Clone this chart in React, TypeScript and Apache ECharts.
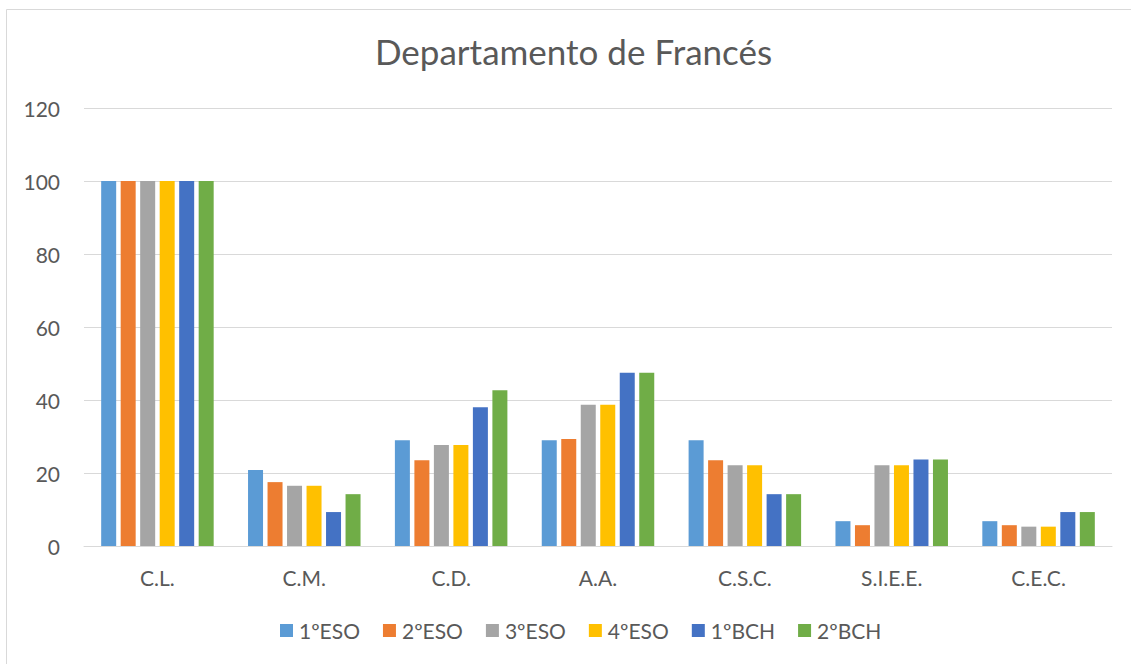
import React, { useEffect, useRef } from "react";
import * as echarts from "echarts";

const categories = ["C.L.", "C.M.", "C.D.", "A.A.", "C.S.C.", "S.I.E.E.", "C.E.C."];
const seriesNames = ["1ºESO", "2ºESO", "3ºESO", "4ºESO", "1ºBCH", "2ºBCH"];
const seriesColors = ["#5B9BD5", "#ED7D31", "#A5A5A5", "#FFC000", "#4472C4", "#70AD47"];
const eso1 = [100, 20.8, 29.0, 29.0, 29.0, 6.8, 6.8];
const eso2 = [100, 17.5, 23.5, 29.3, 23.5, 5.7, 5.7];
const eso3 = [100, 16.5, 27.7, 38.7, 22.1, 22.1, 5.3];
const eso4 = [100, 16.5, 27.7, 38.7, 22.1, 22.1, 5.3];
const bch1 = [100, 9.3, 38.0, 47.5, 14.2, 23.7, 9.3];
const bch2 = [100, 14.2, 42.7, 47.5, 14.2, 23.7, 9.3];
const seriesValues = [eso1, eso2, eso3, eso4, bch1, bch2];
const yTicks = { min: 0, max: 120, interval: 20 };
const titleText = "Departamento de Francés";

const FONT = "Lato, 'Open Sans', sans-serif";
const TEXT = "#595959";

export default function App() {
  const ref = useRef<HTMLDivElement>(null);
  useEffect(() => {
    if (!ref.current) return;
    const chart = echarts.init(ref.current, undefined, { renderer: "svg" });
    chart.setOption({
      animation: false,
      backgroundColor: "#ffffff",
      textStyle: { fontFamily: FONT },
      title: {
        text: titleText,
        left: 375,
        top: 33,
        padding: 0,
        textStyle: { fontFamily: FONT, fontSize: 35, fontWeight: "normal", color: TEXT },
      },
      legend: {
        data: seriesNames,
        bottom: 18,
        left: 275,
        icon: "rect",
        itemWidth: 13,
        itemHeight: 13,
        itemGap: 23,
        textStyle: { fontFamily: FONT, fontSize: 21, color: TEXT, padding: [0, 0, 0, 1] },
      },
      grid: { left: 84, right: 19, top: 108, bottom: 118, containLabel: false },
      xAxis: {
        type: "category",
        data: categories,
        axisLine: { lineStyle: { color: "#D9D9D9", width: 1 } },
        axisTick: { show: false },
        axisLabel: { fontFamily: FONT, fontSize: 21, color: TEXT, margin: 21 },
      },
      yAxis: {
        type: "value",
        min: yTicks.min,
        max: yTicks.max,
        interval: yTicks.interval,
        axisLine: { show: false },
        axisTick: { show: false },
        splitLine: { lineStyle: { color: "#D9D9D9", width: 1 } },
        axisLabel: { fontFamily: FONT, fontSize: 21, color: TEXT, margin: 24 },
      },
      graphic: [
        { type: "line", shape: { x1: 6.5, y1: 9.5, x2: 1131, y2: 9.5 }, style: { stroke: "#D9D9D9", lineWidth: 1 } },
        { type: "line", shape: { x1: 6.5, y1: 9.5, x2: 6.5, y2: 664 }, style: { stroke: "#D9D9D9", lineWidth: 1 } },
      ],
      series: seriesNames.map((name, i) => ({
        name,
        type: "bar",
        data: seriesValues[i],
        barWidth: 15,
        barGap: "30%",
        itemStyle: { color: seriesColors[i] },
      })),
    });
    return () => chart.dispose();
  }, []);
  return (
    <div
      ref={ref}
      style={{ position: "absolute", left: 0, top: 0, width: 1131, height: 664 }}
    />
  );
}
